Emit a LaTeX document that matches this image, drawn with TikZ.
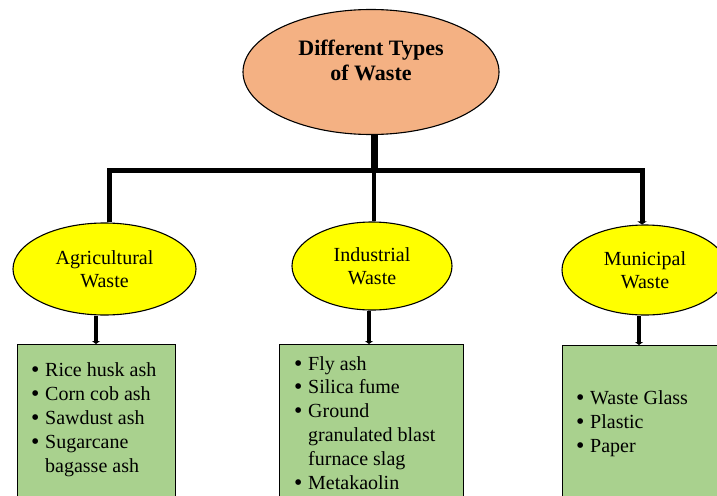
\documentclass[tikz,border=0pt]{standalone}
\usepackage{fontspec}
\setmainfont{Liberation Serif}
\usetikzlibrary{shapes.geometric,arrows.meta}
\definecolor{peach}{HTML}{F4B183}
\definecolor{yel}{HTML}{FFFF00}
\definecolor{grn}{HTML}{A9D18E}
\newcommand\mybul{\makebox[10pt][c]{\fontsize{21}{23}\selectfont\bfseries\textbullet}}
\begin{document}
\begin{tikzpicture}[x=1pt,y=-1pt,
  topell/.style={ellipse,draw=black,line width=1.1pt,fill=peach,minimum width=256pt,minimum height=125pt,inner sep=0pt},
  subell/.style={ellipse,draw=black,line width=1.1pt,fill=yel,inner sep=0pt,align=center,font=\fontsize{20}{23}\selectfont},
  listbox/.style={draw=black,line width=1.3pt,fill=grn,anchor=north west,inner sep=0pt},
  listtext/.style={anchor=base west,inner sep=0pt},
  bus/.style={line width=5pt,line join=miter},
  arr/.style={line width=4pt,-{Triangle[length=3pt,width=8pt]}}
]
\useasboundingbox (0,0) rectangle (717,495);
\clip (0,0) rectangle (717,495);
\fill[white] (0,0) rectangle (717,495);

% top ellipse
\node[topell] (top) at (371,72) {};
\node[font=\bfseries\fontsize{22}{25}\selectfont,align=center,inner sep=0pt] (title) at (371,60) {Different Types\\of Waste};

% category ellipses
\node[subell,minimum width=183pt,minimum height=92pt] (agri) at (104.5,269) {Agricultural\\Waste};
\node[subell,minimum width=160pt,minimum height=88pt] (ind) at (372,266) {Industrial\\Waste};
\node[subell,minimum width=166pt,minimum height=90pt] (muni) at (645,270) {Municipal\\Waste};

% bus
\coordinate (jl) at (109,170);
\coordinate (jm) at (374,170);
\coordinate (jr) at (642,170);
\draw[line width=7pt] (374,0 |- top.south) -- ([yshift=2pt]jm);
\draw[bus,-{Triangle[length=3pt,width=9pt]}] (109,0 |- agri.north) -- (jl) -- (jr) -- (642,0 |- muni.north);
\draw[line width=4.5pt] (jm) -- (374,0 |- ind.north);

% boxes
\node[listbox,minimum width=158pt,minimum height=170pt] (agrib) at (17,344) {};
\node[listbox,minimum width=184pt,minimum height=170pt] (indb) at (279,344) {};
\node[listbox,minimum width=170pt,minimum height=170pt] (munib) at (562,345) {};

% arrows
\draw[arr] (96,0 |- agri.south) -- (96,0 |- agrib.north);
\draw[arr] (369,0 |- ind.south) -- (369,0 |- indb.north);
\draw[arr] (639,0 |- muni.south) -- (639,0 |- munib.north);

% lists
\node[listtext,font=\fontsize{20}{24}\selectfont] (agril) at (30,376) {\begin{tabular}[t]{@{}l@{\hspace{5pt}}l@{}}
\mybul & Rice husk ash\\
\mybul & Corn cob ash\\
\mybul & Sawdust ash\\
\mybul & Sugarcane\\
 & bagasse ash
\end{tabular}};
\node[listtext,font=\fontsize{20}{23.8}\selectfont] (indl) at (293,370) {\begin{tabular}[t]{@{}l@{\hspace{5pt}}l@{}}
\mybul & Fly ash\\
\mybul & Silica fume\\
\mybul & Ground\\
 & granulated blast\\
 & furnace slag\\
\mybul & Metakaolin
\end{tabular}};
\node[listtext,font=\fontsize{20}{24}\selectfont] (munil) at (575,404) {\begin{tabular}[t]{@{}l@{\hspace{5pt}}l@{}}
\mybul & Waste Glass\\
\mybul & Plastic\\
\mybul & Paper
\end{tabular}};
\end{tikzpicture}
\end{document}
